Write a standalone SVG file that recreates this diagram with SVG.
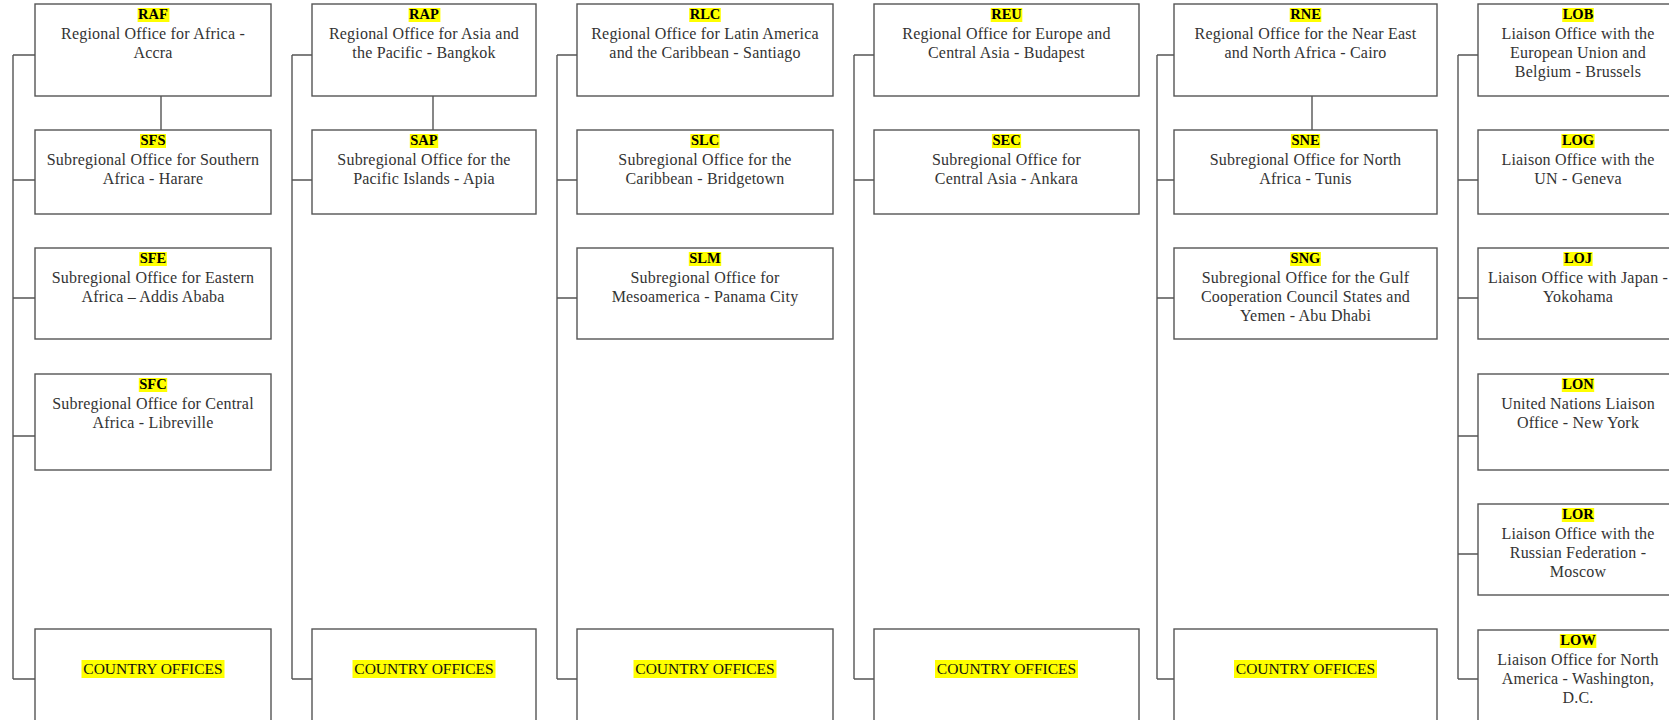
<svg xmlns="http://www.w3.org/2000/svg" width="1669" height="720" viewBox="0 0 1669 720">
<style>
.box{fill:#fff;stroke:#555;stroke-width:1.4}
.hl{fill:#ffff00}
.code{font-family:"Liberation Serif","Times New Roman",serif;font-weight:bold;font-size:14.5px;fill:#000;text-anchor:middle}
.t{font-family:"Liberation Serif","Times New Roman",serif;font-size:16px;letter-spacing:0.2px;fill:#333;text-anchor:middle}
.co{font-family:"Liberation Serif","Times New Roman",serif;font-size:15.5px;fill:#111;text-anchor:middle}
.ln{fill:none;stroke:#555;stroke-width:1.4}
</style>
<rect width="1669" height="720" fill="#fff"/>
<g id="connectors">
<path class="ln" d="M13 55V679M13 55H35M13 180H35M13 298H35M13 436H35M13 679H35M161 96V130"/>
<path class="ln" d="M292 55V679M292 55H312M292 180H312M292 679H312M433 96V130"/>
<path class="ln" d="M557 55V679M557 55H577M557 180H577M557 298H577M557 679H577"/>
<path class="ln" d="M854 55V679M854 55H874M854 180H874M854 679H874"/>
<path class="ln" d="M1157 55V679M1157 55H1174M1157 180H1174M1157 298H1174M1157 679H1174M1312 96V130"/>
<path class="ln" d="M1458 55V679M1458 55H1478M1458 180H1478M1458 298H1478M1458 436H1478M1458 554H1478M1458 679H1478"/>
</g>
<!-- Column 1 -->
<g id="RAF"><rect class="box" x="35" y="4" width="236" height="92"/><rect class="hl" x="137.6" y="8" width="31.8" height="14"/><text class="code" x="153" y="19">RAF</text><text class="t" x="153" y="39">Regional Office for Africa -</text><text class="t" x="153" y="58">Accra</text></g>
<g id="SFS"><rect class="box" x="35" y="130" width="236" height="84"/><rect class="hl" x="140" y="134" width="26" height="14"/><text class="code" x="153" y="145">SFS</text><text class="t" x="153" y="165">Subregional Office for Southern</text><text class="t" x="153" y="184">Africa - Harare</text></g>
<g id="SFE"><rect class="box" x="35" y="248" width="236" height="91"/><rect class="hl" x="139.2" y="252" width="27.6" height="14"/><text class="code" x="153" y="263">SFE</text><text class="t" x="153" y="283">Subregional Office for Eastern</text><text class="t" x="153" y="302">Africa – Addis Ababa</text></g>
<g id="SFC"><rect class="box" x="35" y="374" width="236" height="96"/><rect class="hl" x="138.8" y="378" width="28.4" height="14"/><text class="code" x="153" y="389">SFC</text><text class="t" x="153" y="409">Subregional Office for Central</text><text class="t" x="153" y="428">Africa - Libreville</text></g>
<g id="CO1"><rect class="box" x="35" y="629" width="236" height="94"/><rect class="hl" x="81.5" y="660" width="143" height="18"/><text class="co" x="153" y="674">COUNTRY OFFICES</text></g>
<!-- Column 2 -->
<g id="RAP"><rect class="box" x="312" y="4" width="224" height="92"/><rect class="hl" x="408.6" y="8" width="31.8" height="14"/><text class="code" x="424" y="19">RAP</text><text class="t" x="424" y="39">Regional Office for Asia and</text><text class="t" x="424" y="58">the Pacific - Bangkok</text></g>
<g id="SAP"><rect class="box" x="312" y="130" width="224" height="84"/><rect class="hl" x="409.8" y="134" width="28.4" height="14"/><text class="code" x="424" y="145">SAP</text><text class="t" x="424" y="165">Subregional Office for the</text><text class="t" x="424" y="184">Pacific Islands - Apia</text></g>
<g id="CO2"><rect class="box" x="312" y="629" width="224" height="94"/><rect class="hl" x="352.5" y="660" width="143" height="18"/><text class="co" x="424" y="674">COUNTRY OFFICES</text></g>
<!-- Column 3 -->
<g id="RLC"><rect class="box" x="577" y="4" width="256" height="92"/><rect class="hl" x="689.2" y="8" width="31.6" height="14"/><text class="code" x="705" y="19">RLC</text><text class="t" x="705" y="39">Regional Office for Latin America</text><text class="t" x="705" y="58">and the Caribbean - Santiago</text></g>
<g id="SLC"><rect class="box" x="577" y="130" width="256" height="84"/><rect class="hl" x="690.4" y="134" width="29.2" height="14"/><text class="code" x="705" y="145">SLC</text><text class="t" x="705" y="165">Subregional Office for the</text><text class="t" x="705" y="184">Caribbean - Bridgetown</text></g>
<g id="SLM"><rect class="box" x="577" y="248" width="256" height="91"/><rect class="hl" x="688.8" y="252" width="32.4" height="14"/><text class="code" x="705" y="263">SLM</text><text class="t" x="705" y="283">Subregional Office for</text><text class="t" x="705" y="302">Mesoamerica - Panama City</text></g>
<g id="CO3"><rect class="box" x="577" y="629" width="256" height="94"/><rect class="hl" x="633.5" y="660" width="143" height="18"/><text class="co" x="705" y="674">COUNTRY OFFICES</text></g>
<!-- Column 4 -->
<g id="REU"><rect class="box" x="874" y="4" width="265" height="92"/><rect class="hl" x="990.7" y="8" width="31.6" height="14"/><text class="code" x="1006.5" y="19">REU</text><text class="t" x="1006.5" y="39">Regional Office for Europe and</text><text class="t" x="1006.5" y="58">Central Asia - Budapest</text></g>
<g id="SEC"><rect class="box" x="874" y="130" width="265" height="84"/><rect class="hl" x="991.9" y="134" width="29.2" height="14"/><text class="code" x="1006.5" y="145">SEC</text><text class="t" x="1006.5" y="165">Subregional Office for</text><text class="t" x="1006.5" y="184">Central Asia - Ankara</text></g>
<g id="CO4"><rect class="box" x="874" y="629" width="265" height="94"/><rect class="hl" x="935" y="660" width="143" height="18"/><text class="co" x="1006.5" y="674">COUNTRY OFFICES</text></g>
<!-- Column 5 -->
<g id="RNE"><rect class="box" x="1174" y="4" width="263" height="92"/><rect class="hl" x="1289.7" y="8" width="31.6" height="14"/><text class="code" x="1305.5" y="19">RNE</text><text class="t" x="1305.5" y="39">Regional Office for the Near East</text><text class="t" x="1305.5" y="58">and North Africa - Cairo</text></g>
<g id="SNE"><rect class="box" x="1174" y="130" width="263" height="84"/><rect class="hl" x="1290.9" y="134" width="29.2" height="14"/><text class="code" x="1305.5" y="145">SNE</text><text class="t" x="1305.5" y="165">Subregional Office for North</text><text class="t" x="1305.5" y="184">Africa - Tunis</text></g>
<g id="SNG"><rect class="box" x="1174" y="248" width="263" height="91"/><rect class="hl" x="1290.1" y="252" width="30.8" height="14"/><text class="code" x="1305.5" y="263">SNG</text><text class="t" x="1305.5" y="283">Subregional Office for the Gulf</text><text class="t" x="1305.5" y="302">Cooperation Council States and</text><text class="t" x="1305.5" y="321">Yemen - Abu Dhabi</text></g>
<g id="CO5"><rect class="box" x="1174" y="629" width="263" height="94"/><rect class="hl" x="1234" y="660" width="143" height="18"/><text class="co" x="1305.5" y="674">COUNTRY OFFICES</text></g>
<!-- Column 6 -->
<g id="LOB"><rect class="box" x="1478" y="4" width="205" height="92"/><rect class="hl" x="1562.2" y="8" width="31.6" height="14"/><text class="code" x="1578" y="19">LOB</text><text class="t" x="1578" y="39">Liaison Office with the</text><text class="t" x="1578" y="58">European Union and</text><text class="t" x="1578" y="77">Belgium - Brussels</text></g>
<g id="LOG"><rect class="box" x="1478" y="130" width="205" height="84"/><rect class="hl" x="1561.4" y="134" width="33.2" height="14"/><text class="code" x="1578" y="145">LOG</text><text class="t" x="1578" y="165">Liaison Office with the</text><text class="t" x="1578" y="184">UN - Geneva</text></g>
<g id="LOJ"><rect class="box" x="1478" y="248" width="205" height="91"/><rect class="hl" x="1563.4" y="252" width="29.2" height="14"/><text class="code" x="1578" y="263">LOJ</text><text class="t" x="1578" y="283">Liaison Office with Japan -</text><text class="t" x="1578" y="302">Yokohama</text></g>
<g id="LON"><rect class="box" x="1478" y="374" width="205" height="96"/><rect class="hl" x="1561.8" y="378" width="32.4" height="14"/><text class="code" x="1578" y="389">LON</text><text class="t" x="1578" y="409">United Nations Liaison</text><text class="t" x="1578" y="428">Office - New York</text></g>
<g id="LOR"><rect class="box" x="1478" y="504" width="205" height="91"/><rect class="hl" x="1561.8" y="508" width="32.4" height="14"/><text class="code" x="1578" y="519">LOR</text><text class="t" x="1578" y="539">Liaison Office with the</text><text class="t" x="1578" y="558">Russian Federation -</text><text class="t" x="1578" y="577">Moscow</text></g>
<g id="LOW"><rect class="box" x="1478" y="630" width="205" height="93"/><rect class="hl" x="1559.8" y="634" width="36.5" height="14"/><text class="code" x="1578" y="645">LOW</text><text class="t" x="1578" y="665">Liaison Office for North</text><text class="t" x="1578" y="684">America - Washington,</text><text class="t" x="1578" y="703">D.C.</text></g>
</svg>
